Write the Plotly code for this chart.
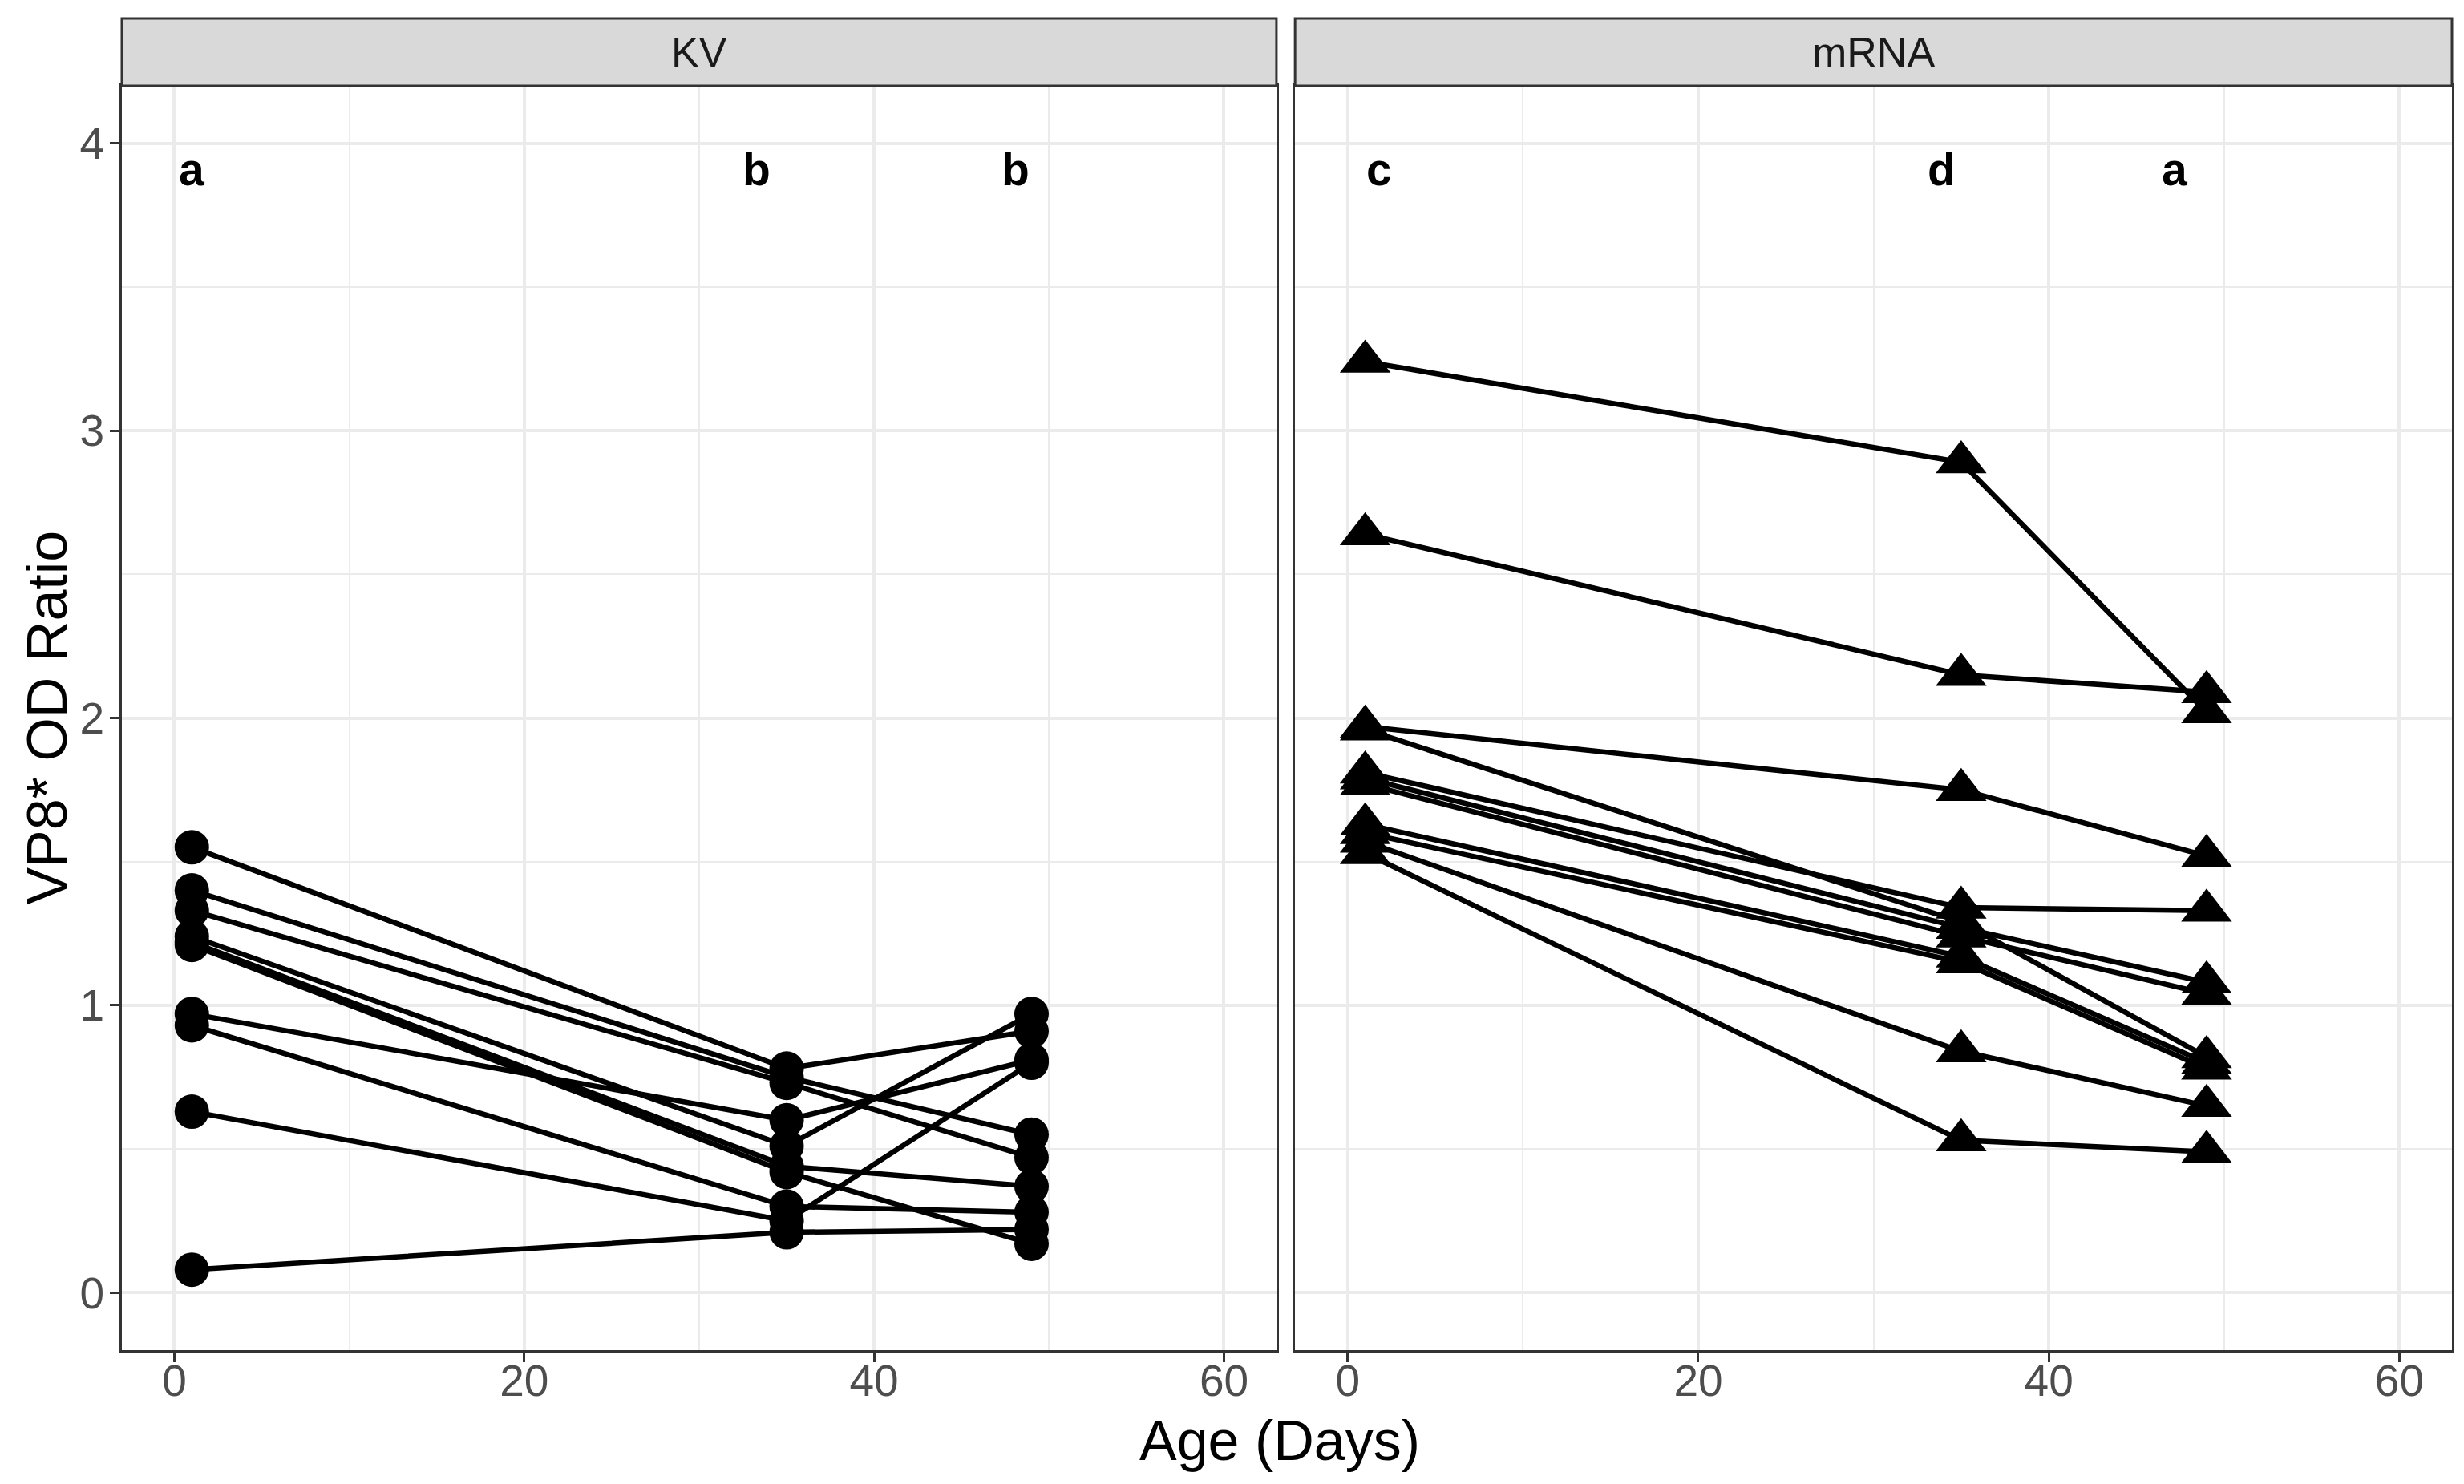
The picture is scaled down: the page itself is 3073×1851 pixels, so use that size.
import plotly.graph_objects as go

# ---------------- data ----------------
days = [1, 35, 49]

kv_day1 = [1.55, 1.40, 1.33, 1.24, 1.22, 1.21, 0.97, 0.93, 0.63, 0.08]
kv_day35 = [0.78, 0.75, 0.73, 0.51, 0.44, 0.42, 0.60, 0.30, 0.25, 0.21]
kv_day49 = [0.91, 0.55, 0.47, 0.97, 0.37, 0.17, 0.81, 0.28, 0.80, 0.22]

mrna_day1 = [3.24, 2.64, 1.97, 1.96, 1.81, 1.79, 1.77, 1.63, 1.60, 1.57, 1.53]
mrna_day35 = [2.89, 2.15, 1.75, 1.29, 1.34, 1.27, 1.24, 1.17, 1.15, 0.84, 0.53]
mrna_day49 = [2.02, 2.09, 1.52, 0.82, 1.33, 1.08, 1.04, 0.80, 0.78, 0.65, 0.49]

panel_labels = ["KV", "mRNA"]
kv_letters = ["a", "b", "b"]
kv_letter_x = [1, 33.3, 48.1]
mrna_letters = ["c", "d", "a"]
mrna_letter_x = [1.8, 33.9, 47.2]
letter_y = 3.91

x_ticks = [0, 20, 40, 60]
y_ticks = [0, 1, 2, 3, 4]

# ---------------- styling ----------------
FONT = "Liberation Sans, Arial, sans-serif"
W, H = 3073, 1851
ML, MR, MT, MB = 152, 12, 23, 167
plot_top = 0.9494
kv_dom = [0.0, 0.4955]
mrna_dom = [0.5035, 1.0]

fig = go.Figure()


def add_panel(d1, d35, d49, xref, yref, symbol, msize):
    n = len(d1)
    for i in range(n):
        fig.add_trace(go.Scatter(
            x=days, y=[d1[i], d35[i], d49[i]], mode="lines",
            line=dict(color="black", width=6.5),
            xaxis=xref, yaxis=yref, showlegend=False, hoverinfo="skip"))
    xs, ys = [], []
    for i in range(n):
        xs += days
        ys += [d1[i], d35[i], d49[i]]
    fig.add_trace(go.Scatter(
        x=xs, y=ys, mode="markers",
        marker=dict(color="black", size=msize, symbol=symbol, line=dict(width=0)),
        xaxis=xref, yaxis=yref, showlegend=False))


add_panel(kv_day1, kv_day35, kv_day49, "x", "y", "circle", 43)
add_panel(mrna_day1, mrna_day35, mrna_day49, "x2", "y2", "triangle-up", 55)

grid = "#EBEBEB"
border = "#333333"
axis_common = dict(
    showline=True, linecolor=border, linewidth=3, mirror=True,
    showgrid=True, gridcolor=grid, gridwidth=3.5, zeroline=False,
    ticks="outside", ticklen=12, tickwidth=3, tickcolor=border,
    tickfont=dict(family=FONT, size=55, color="#4D4D4D"),
)

xaxis_common = dict(axis_common, range=[-3, 63], tickvals=x_ticks,
                    ticklabelstandoff=-24,
                    minor=dict(tickvals=[10, 30, 50], showgrid=True,
                               gridcolor=grid, gridwidth=1.8, ticks=""))
yaxis_common = dict(axis_common, range=[-0.2, 4.2], tickvals=y_ticks,
                    minor=dict(tickvals=[0.5, 1.5, 2.5, 3.5], showgrid=True,
                               gridcolor=grid, gridwidth=1.8, ticks=""))

fig.update_layout(
    width=W, height=H,
    margin=dict(l=ML, r=MR, t=MT, b=MB),
    paper_bgcolor="white", plot_bgcolor="white",
    xaxis=dict(xaxis_common, domain=kv_dom, anchor="y"),
    xaxis2=dict(xaxis_common, domain=mrna_dom, anchor="y2"),
    yaxis=dict(yaxis_common, domain=[0, plot_top], anchor="x", ticklabelstandoff=-4),
    yaxis2=dict(yaxis_common, domain=[0, plot_top], anchor="x2",
                matches="y", showticklabels=False, ticks=""),
    font=dict(family=FONT),
)

shapes = []
annotations = []
for dom, lab in zip([kv_dom, mrna_dom], panel_labels):
    shapes.append(dict(type="rect", xref="paper", yref="paper",
                       x0=dom[0], x1=dom[1], y0=plot_top, y1=1.0,
                       fillcolor="#D9D9D9", line=dict(color=border, width=3)))
    annotations.append(dict(text=lab, xref="paper", yref="paper",
                            x=(dom[0] + dom[1]) / 2, y=(plot_top + 1.0) / 2,
                            xanchor="center", yanchor="middle", showarrow=False,
                            font=dict(family=FONT, size=52, color="#1A1A1A")))

for letters, lx, xr, yr in [(kv_letters, kv_letter_x, "x", "y"),
                             (mrna_letters, mrna_letter_x, "x2", "y2")]:
    for t, xv in zip(letters, lx):
        annotations.append(dict(text="<b>" + t + "</b>", xref=xr, yref=yr,
                                x=xv, y=letter_y, xanchor="center", yanchor="middle",
                                showarrow=False,
                                font=dict(family=FONT, size=57, color="black")))

annotations.append(dict(text="Age (Days)", xref="paper", yref="paper",
                        x=0.497, y=(1684 - 1797) / (H - MT - MB),
                        xanchor="center", yanchor="middle", showarrow=False,
                        font=dict(family=FONT, size=70, color="black")))
annotations.append(dict(text="VP8* OD Ratio", xref="paper", yref="paper",
                        x=(58 - ML) / (W - ML - MR), y=plot_top / 2,
                        xanchor="center", yanchor="middle", showarrow=False,
                        textangle=-90,
                        font=dict(family=FONT, size=70, color="black")))

fig.update_layout(shapes=shapes, annotations=annotations)

fig.write_html("out.html", config={"displayModeBar": False},
               post_script="document.body.style.margin='0px';")
